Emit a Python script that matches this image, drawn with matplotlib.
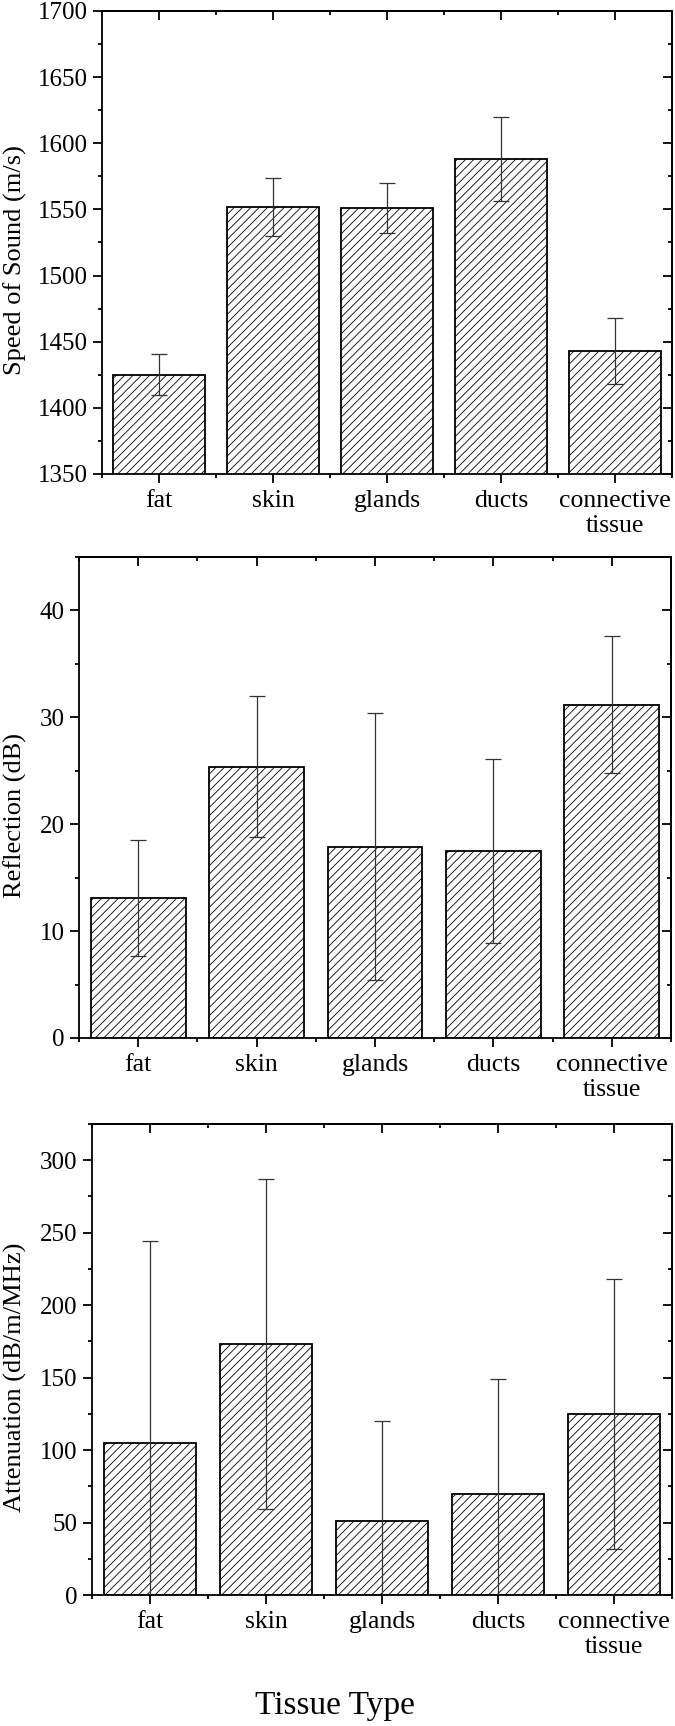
import matplotlib
matplotlib.use("Agg")
import matplotlib.pyplot as plt
import matplotlib.transforms as mtransforms
from matplotlib.ticker import FixedLocator, MultipleLocator
import numpy as np

tissues = ["fat", "skin", "glands", "ducts", "connective\ntissue"]

speed = [1425, 1552, 1551, 1588, 1443]
speed_err = [15.5, 22, 19, 32, 25]

reflection = [13.1, 25.4, 17.9, 17.5, 31.2]
reflection_err = [5.4, 6.6, 12.5, 8.6, 6.4]

attenuation = [105, 173, 51, 70, 125]
attenuation_err = [139, 114, 69, 79, 93]

plt.rcParams['font.family'] = ['Liberation Serif', 'DejaVu Serif']
plt.rcParams['hatch.linewidth'] = 0.6

W, H = 675, 1726
fig = plt.figure(figsize=(W / 100, H / 100), dpi=100)


def add_panel(box, values, errs, ylabel, ylim, major, minor):
    l, r, t, b = box
    ax = fig.add_axes([l / W, 1 - b / H, (r - l) / W, (b - t) / H])
    x = np.arange(1, len(values) + 1)
    ax.bar(x, values, width=0.8, color='white', edgecolor='black',
           linewidth=1.3, hatch='////', zorder=1)
    ax.errorbar(x, values, yerr=errs, fmt='none', ecolor='#333333',
                elinewidth=0.9, capsize=6, capthick=0.9, zorder=3)
    ax.set_xlim(0.5, len(values) + 0.5)
    ax.set_ylim(*ylim)
    ax.set_xticks(x, tissues, fontsize=18.5, linespacing=1.2)
    ax.xaxis.set_minor_locator(FixedLocator(np.arange(0.5, len(values) + 1, 1)))
    ax.yaxis.set_major_locator(MultipleLocator(major))
    ax.yaxis.set_minor_locator(MultipleLocator(minor))
    for lab in ax.get_yticklabels():
        lab.set_fontsize(18)
    ax.tick_params(which='both', direction='out', width=1.3, top=False, right=False)
    ax.tick_params(which='major', length=6.5)
    ax.tick_params(which='minor', length=3.2)
    ax.tick_params(axis='x', pad=5)
    ax.tick_params(axis='y', pad=4)
    for s in ax.spines.values():
        s.set_linewidth(1.3)

    # mirrored ticks on top/right pointing inwards
    top = ax.secondary_xaxis('top')
    top.set_xticks(x, [])
    top.xaxis.set_minor_locator(FixedLocator(np.arange(0.5, len(values) + 1, 1)))
    top.tick_params(which='both', direction='in', width=1.3)
    top.tick_params(which='major', length=6.5)
    top.tick_params(which='minor', length=3.2)
    top.spines['top'].set_linewidth(1.3)
    right = ax.secondary_yaxis('right')
    right.yaxis.set_major_locator(MultipleLocator(major))
    right.yaxis.set_minor_locator(MultipleLocator(minor))
    right.set_yticklabels([])
    right.tick_params(which='both', direction='in', width=1.3)
    right.tick_params(which='major', length=6.5)
    right.tick_params(which='minor', length=3.2)
    right.spines['right'].set_linewidth(1.3)

    ax.set_ylabel(ylabel, fontsize=19)
    trans = mtransforms.blended_transform_factory(fig.transFigure, ax.transAxes)
    ax.yaxis.set_label_coords(27 / W, 0.462, transform=trans)
    return ax


add_panel((102, 672, 11, 474), speed, speed_err, "Speed of Sound (m/s)",
          (1350, 1700), 50, 25)
add_panel((79, 671, 557, 1038), reflection, reflection_err, "Reflection (dB)",
          (0, 45), 10, 5)
add_panel((92, 672, 1124, 1595), attenuation, attenuation_err,
          "Attenuation (dB/m/MHz)", (0, 325), 50, 25)

fig.text(335 / W, 1 - 1706 / H, "Tissue Type", fontsize=24,
         ha='center', va='center')

fig.savefig("out.png", dpi=100)
